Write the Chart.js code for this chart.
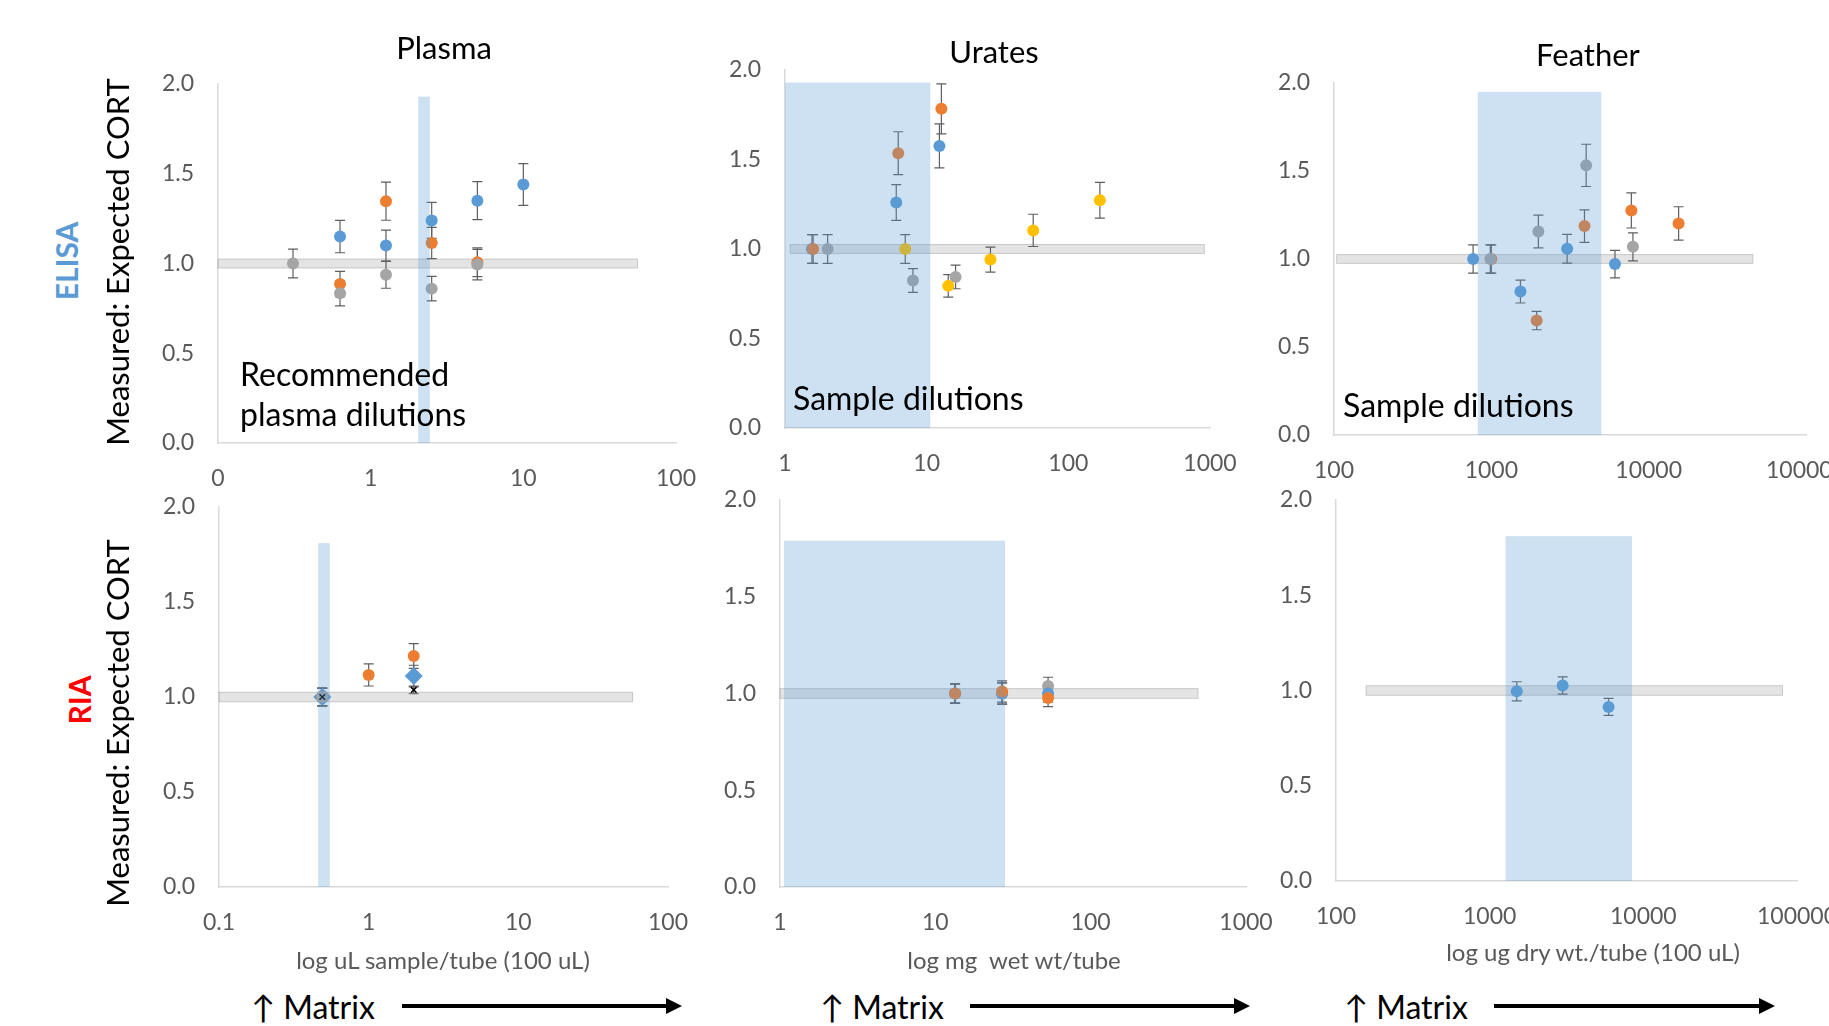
<!DOCTYPE html>
<html>
<head>
<meta charset="utf-8">
<script src="https://cdn.jsdelivr.net/npm/chart.js@4.4.0/dist/chart.umd.min.js"></script>
<style>
  body { margin: 0; width: 1829px; height: 1026px; background: #fff; position: relative; overflow: hidden; font-family: Lato, "Open Sans", sans-serif; }
  canvas { position: absolute; }
  .lbl { position: absolute; white-space: nowrap; transform: translate(-50%, -50%); color: #000; }
  .left { transform: translate(0, -50%); }
  .rot { transform: translate(-50%, -50%) rotate(-90deg); }
  .title { font-size: 31px; }
  .note { font-size: 32px; line-height: 40px; }
  .ytitle { font-size: 31px; }
  .tag { font-size: 30px; font-weight: bold; }
  .xtitle { font-size: 24px; color: #595959; }
  .matrix { font-size: 32px; }
</style>
</head>
<body>

<canvas id="c1"></canvas>
<canvas id="c2"></canvas>
<canvas id="c3"></canvas>
<canvas id="c4"></canvas>
<canvas id="c5"></canvas>
<canvas id="c6"></canvas>

<!-- titulos dos paineis -->
<div class="lbl title" style="left:444px; top:47px;">Plasma</div>
<div class="lbl title" style="left:994px; top:51px;">Urates</div>
<div class="lbl title" style="left:1588px; top:54px;">Feather</div>

<div class="lbl rot ytitle" style="left:117px; top:262px;">Measured: Expected CORT</div>
<div class="lbl rot tag" style="left:66px; top:261px; color:#5B9BD5;">ELISA</div>
<div class="lbl rot ytitle" style="left:117px; top:723px;">Measured: Expected CORT</div>
<div class="lbl rot tag" style="left:79px; top:700px; color:#FF0000;">RIA</div>

<div class="lbl left note" style="left:240px; top:394px;">Recommended<br>plasma dilutions</div>
<div class="lbl left note" style="left:793px; top:398px;">Sample dilutions</div>
<div class="lbl left note" style="left:1343px; top:405px;">Sample dilutions</div>

<div class="lbl xtitle" style="left:443px; top:959px;">log uL sample/tube (100 uL)</div>
<div class="lbl xtitle" style="left:1014px; top:959px;">log mg&nbsp; wet wt/tube</div>
<div class="lbl xtitle" style="left:1593px; top:951px;">log ug dry wt./tube (100 uL)</div>

<div class="lbl left matrix" style="left:251px; top:1006px;">↑ Matrix</div>
<div class="lbl left matrix" style="left:820px; top:1006px;">↑ Matrix</div>
<div class="lbl left matrix" style="left:1344px; top:1006px;">↑ Matrix</div>

<svg width="1829" height="1026" style="position:absolute; left:0; top:0; pointer-events:none;">
  <defs>
    <marker id="head" markerWidth="4" markerHeight="4" refX="2.5" refY="2" orient="auto">
      <path d="M0,0 L4,2 L0,4 z" fill="#000"/>
    </marker>
  </defs>
  <line x1="402" y1="1006" x2="676" y2="1006" stroke="#000" stroke-width="4" marker-end="url(#head)"/>
  <line x1="970" y1="1006" x2="1244" y2="1006" stroke="#000" stroke-width="4" marker-end="url(#head)"/>
  <line x1="1494" y1="1006" x2="1769" y2="1006" stroke="#000" stroke-width="4" marker-end="url(#head)"/>
</svg>

<script>
// cores das series (padrao do Excel)
const BLUE = '#5B9BD5', ORANGE = '#ED7D31', GRAY = '#A5A5A5', YELLOW = '#FFC000'

// eixo Y comum
const ratioTicks = [0, 0.5, 1, 1.5, 2]
const refBand = [0.975, 1.025]

// ===== ELISA PLASMA ===== [x, y, erro]
const plasmaTicks = [0.1, 1, 10, 100]
const plasmaLabels = ['0', '1', '10', '100']
const plasmaBlue = [[0.63, 1.15, 0.09], [1.26, 1.10, 0.086], [2.51, 1.24, 0.10], [5.0, 1.35, 0.106], [10, 1.44, 0.116]]
const plasmaOrange = [[0.63, 0.886, 0.07], [1.26, 1.347, 0.106], [2.51, 1.114, 0.087], [5.0, 1.007, 0.08]]
const plasmaGray = [[0.31, 1.0, 0.08], [0.63, 0.834, 0.07], [1.26, 0.937, 0.075], [2.51, 0.86, 0.068], [5.0, 0.994, 0.085]]
const plasmaBand = [2.05, 2.44, 1.93]
const plasmaRef = [0.1, 56]

// ===== ELISA URATES =====
const uratesTicks = [1, 10, 100, 1000]
const uratesLabels = ['1', '10', '100', '1000']
const uratesBlue = [[1.55, 1.0, 0.08], [6.1, 1.26, 0.10], [12.3, 1.576, 0.123]]
const uratesOrange = [[1.58, 1.0, 0.08], [6.3, 1.535, 0.12], [12.7, 1.783, 0.14]]
const uratesGray = [[2.0, 1.0, 0.08], [8.0, 0.824, 0.066], [16.0, 0.844, 0.066]]
const uratesYellow = [[7.06, 1.0, 0.08], [14.2, 0.794, 0.063], [28.2, 0.941, 0.07], [56.5, 1.104, 0.09], [167, 1.272, 0.10]]
const uratesBand = [1, 10.6, 1.93]
const uratesRef = [1.09, 912]

// ===== ELISA FEATHER =====
const featherTicks = [100, 1000, 10000, 100000]
const featherLabels = ['100', '1000', '10000', '100000']
const featherBlue = [[766, 1.0, 0.08], [1531, 0.815, 0.065], [3033, 1.058, 0.082], [6109, 0.971, 0.078]]
const featherOrange = [[1000, 1.0, 0.08], [1941, 0.65, 0.052], [3909, 1.187, 0.092], [7762, 1.276, 0.10], [15500, 1.202, 0.095]]
const featherGray = [[985, 1.0, 0.08], [1991, 1.156, 0.093], [4006, 1.532, 0.12], [7943, 1.069, 0.08]]
const featherBand = [820, 5000, 1.95]
const featherRef = [104, 46000]

// ===== RIA PLASMA =====
const riaPlasmaTicks = [0.1, 1, 10, 100]
const riaPlasmaLabels = ['0.1', '1', '10', '100']
const riaPlasmaBlue = [[0.49, 1.0, 0.047], [2, 1.11, 0.057]]
const riaPlasmaOrange = [[0.49, 1.0, 0.047], [1, 1.116, 0.058], [2, 1.216, 0.065]]
const riaPlasmaGray = [[0.49, 1.0, 0.047]]
const riaPlasmaBlack = [[0.49, 1.0, 0.02], [2, 1.037, 0.02]]
const riaPlasmaBand = [0.46, 0.55, 1.81]
const riaPlasmaRef = [0.1, 58]

// ===== RIA URATES =====
const riaUratesTicks = [1, 10, 100, 1000]
const riaUratesLabels = ['1', '10', '100', '1000']
const riaUratesBlue = [[13.4, 1.0, 0.05], [26.9, 1.0, 0.055], [53.2, 1.0, 0.045]]
const riaUratesOrange = [[13.4, 1.0, 0.05], [26.9, 1.01, 0.055], [53.2, 0.977, 0.045]]
const riaUratesGray = [[13.4, 1.0, 0.05], [26.9, 1.0, 0.055], [53.2, 1.039, 0.045]]
const riaUratesBand = [1.06, 28.1, 1.79]
const riaUratesRef = [1, 491]

// ===== RIA FEATHER =====
const riaFeatherTicks = [100, 1000, 10000, 100000]
const riaFeatherLabels = ['100', '1000', '10000', '100000']
const riaFeatherBlue = [[1500, 0.996, 0.05], [2985, 1.026, 0.045], [5940, 0.914, 0.045]]
const riaFeatherBand = [1268, 8450, 1.81]
const riaFeatherRef = [157, 80500]


// faixas (cinza e azul) + barras de erro
const bandsPlugin = {
    id: 'bands',
    beforeDatasetsDraw(chart, args, opts) {
        const ctx = chart.ctx, x = chart.scales.x, y = chart.scales.y
        ctx.save()
        const gx0 = x.getPixelForValue(opts.ref[0]), gx1 = x.getPixelForValue(opts.ref[1])
        const gy0 = y.getPixelForValue(refBand[1]), gy1 = y.getPixelForValue(refBand[0])
        ctx.fillStyle = 'rgba(166,166,166,0.3)'
        ctx.fillRect(gx0, gy0, gx1 - gx0, gy1 - gy0)
        ctx.strokeStyle = 'rgba(150,150,150,0.45)'
        ctx.lineWidth = 1
        ctx.strokeRect(gx0, gy0, gx1 - gx0, gy1 - gy0)

        ctx.strokeStyle = '#5f5f5f'
        ctx.lineWidth = 1.2
        chart.data.datasets.forEach(ds => {
            ds.data.forEach(p => {
                const px = x.getPixelForValue(p.x)
                const top = y.getPixelForValue(p.y + p.e)
                const bot = y.getPixelForValue(p.y - p.e)
                ctx.beginPath()
                ctx.moveTo(px, top); ctx.lineTo(px, bot)
                ctx.moveTo(px - 5, top); ctx.lineTo(px + 5, top)
                ctx.moveTo(px - 5, bot); ctx.lineTo(px + 5, bot)
                ctx.stroke()
            })
        })
        ctx.restore()
    },
    afterDatasetsDraw(chart, args, opts) {
        const ctx = chart.ctx, x = chart.scales.x, y = chart.scales.y
        const b = opts.band
        const x0 = x.getPixelForValue(b[0]), x1 = x.getPixelForValue(b[1])
        const y0 = y.getPixelForValue(b[2]), y1 = y.getPixelForValue(0)
        ctx.save()
        ctx.fillStyle = 'rgba(91,155,213,0.3)'
        ctx.fillRect(x0, y0, x1 - x0, y1 - y0)
        ctx.restore()
    }
}

function serie(pts, color, style, radius) {
    return {
        data: pts.map(p => ({ x: p[0], y: p[1], e: p[2] })),
        backgroundColor: style === 'crossRot' ? 'transparent' : color,
        borderColor: color,
        borderWidth: style === 'crossRot' ? 1.5 : 0,
        pointStyle: style || 'circle',
        pointRadius: radius || 6
    }
}

// margens do canvas em volta da area do grafico
const PAD_TOP = 40, PAD_RIGHT = 70, Y_W = 110, X_H = 60

function makePanel(id, area, xTicks, xLabels, band, ref, datasets) {
    const canvas = document.getElementById(id)
    canvas.width = area.r - area.l + Y_W + PAD_RIGHT
    canvas.height = area.b - area.t + PAD_TOP + X_H
    canvas.style.left = (area.l - Y_W) + 'px'
    canvas.style.top = (area.t - PAD_TOP) + 'px'

    new Chart(canvas.getContext('2d'), {
        type: 'scatter',
        data: { datasets: datasets },
        options: {
            responsive: false,
            animation: false,
            layout: { padding: { top: PAD_TOP, right: PAD_RIGHT, left: 0, bottom: 0 } },
            plugins: {
                legend: { display: false },
                tooltip: { enabled: false },
                bands: { band: band, ref: ref }
            },
            scales: {
                x: {
                    type: 'logarithmic',
                    min: xTicks[0],
                    max: xTicks[xTicks.length - 1],
                    afterBuildTicks: s => { s.ticks = xTicks.map(v => ({ value: v })) },
                    afterFit: s => { s.height = X_H },
                    grid: { color: 'rgba(0,0,0,0)', drawTicks: false },
                    border: { color: '#d9d9d9', width: 1.5 },
                    ticks: {
                        padding: 22, color: '#595959', autoSkip: false, maxRotation: 0,
                        font: { family: 'Lato', size: 23 },
                        callback: (v, i) => xLabels[i]
                    }
                },
                y: {
                    min: 0,
                    max: 2,
                    afterBuildTicks: s => { s.ticks = ratioTicks.map(v => ({ value: v })) },
                    afterFit: s => { s.width = Y_W },
                    grid: { color: 'rgba(0,0,0,0)', drawTicks: false },
                    border: { color: '#d9d9d9', width: 1.5 },
                    ticks: {
                        padding: 24, color: '#595959',
                        font: { family: 'Lato', size: 23 },
                        callback: v => Number(v).toFixed(1)
                    }
                }
            }
        },
        plugins: [bandsPlugin]
    })
}

// GRAFICOS ELISA
makePanel('c1', { l: 218, r: 676, t: 84, b: 443 }, plasmaTicks, plasmaLabels, plasmaBand, plasmaRef, [
    serie(plasmaGray, GRAY), serie(plasmaOrange, ORANGE), serie(plasmaBlue, BLUE)
])
makePanel('c2', { l: 785, r: 1210, t: 70, b: 428 }, uratesTicks, uratesLabels, uratesBand, uratesRef, [
    serie(uratesYellow, YELLOW), serie(uratesGray, GRAY), serie(uratesOrange, ORANGE), serie(uratesBlue, BLUE)
])
makePanel('c3', { l: 1334, r: 1806, t: 83, b: 435 }, featherTicks, featherLabels, featherBand, featherRef, [
    serie(featherGray, GRAY), serie(featherOrange, ORANGE), serie(featherBlue, BLUE)
])

// GRAFICOS RIA
makePanel('c4', { l: 219, r: 668, t: 507, b: 887 }, riaPlasmaTicks, riaPlasmaLabels, riaPlasmaBand, riaPlasmaRef, [
    serie(riaPlasmaBlack, '#000000', 'crossRot', 4), serie(riaPlasmaGray, GRAY),
    serie(riaPlasmaOrange, ORANGE), serie(riaPlasmaBlue, BLUE, 'rectRot', 9)
])
makePanel('c5', { l: 780, r: 1246, t: 500, b: 887 }, riaUratesTicks, riaUratesLabels, riaUratesBand, riaUratesRef, [
    serie(riaUratesOrange, ORANGE), serie(riaUratesBlue, BLUE), serie(riaUratesGray, GRAY)
])
makePanel('c6', { l: 1336, r: 1797, t: 500, b: 881 }, riaFeatherTicks, riaFeatherLabels, riaFeatherBand, riaFeatherRef, [
    serie(riaFeatherBlue, BLUE)
])
</script>
</body>
</html>
